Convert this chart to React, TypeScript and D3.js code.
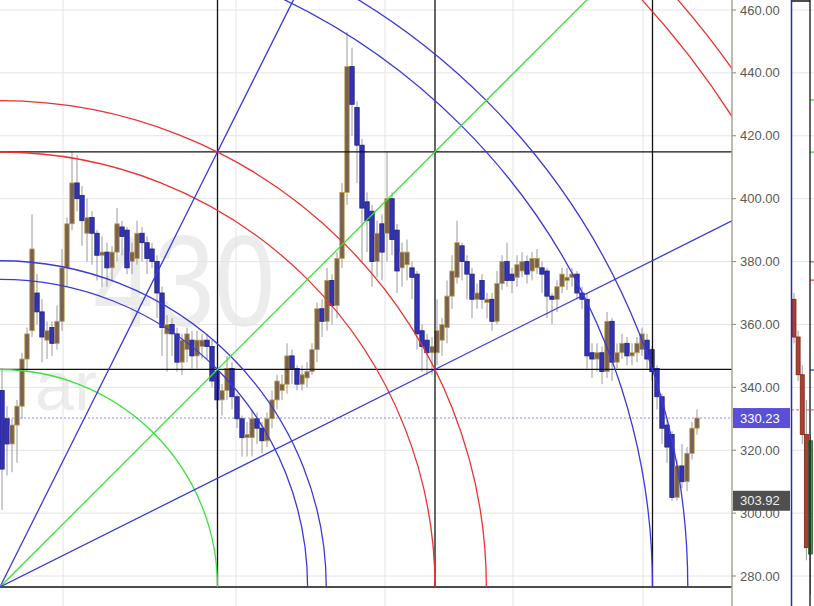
import React from 'react';
import * as d3 from 'd3';

// ---- candle data (bar index -> OHLC) ----
const open = [339,330,322,328,334,349,358,370,364,355,359,354,361,378,392,405,401,389,394,389,
382,383,378,383,391,390,380,381,389,386,384,380,370,357,360,357,348,352,355,350,
353,355,353,345,336,339,346,337,330,324,324,330,327,323,330,336,339,341,350,346,
341,343,345,352,365,361,374,366,381,402,442,429,417,399,396,380,392,389,400,390,
378,379,378,376,358,355,351,351,355,359,369,375,385,380,376,368,374,367,368,361,
373,380,376,375,377,380,377,378,378,377,369,368,372,374,375,376,370,368,351,349,
351,345,361,348,351,354,350,351,352,355,352,346,337,328,325,305,315,310,319,327];
const high = [346,334,330,336,351,359,395,376,368,361,361,366,384,394,415,414,404,400,396,390,
388,386,385,397,393,391,386,393,391,388,386,382,372,363,362,359,357,359,358,358,
357,357,355,346,341,350,348,338,331,329,333,332,329,332,339,344,344,354,352,347,
347,348,354,367,368,378,376,383,405,453,448,431,419,402,398,393,395,415,402,392,
386,387,380,377,360,357,356,368,362,374,382,393,386,382,378,373,376,370,370,377,
382,386,378,382,383,382,383,384,380,378,370,374,378,378,378,377,372,370,354,354,
353,364,362,354,357,356,354,356,359,357,353,347,338,330,326,317,322,321,329,333];
const low = [301,312,313,316,330,345,356,360,348,349,350,352,358,372,390,396,385,380,379,374,
372,372,374,380,382,376,376,379,380,376,378,362,350,345,350,345,344,348,346,346,
349,349,340,333,331,336,333,327,318,318,318,322,319,321,327,333,336,338,341,339,
339,340,344,348,356,358,360,362,378,398,420,405,380,383,372,375,374,380,382,370,
372,374,368,352,345,344,344,347,350,354,365,373,374,368,362,365,365,362,358,360,
371,372,370,372,375,373,374,376,370,362,360,364,370,371,372,368,365,346,343,345,
341,343,342,346,349,347,347,348,350,346,342,333,322,316,303.92,304,308,307,317,325];
const close = [314,322,328,334,349,357,384,364,356,358,354,361,378,392,405,400,393,394,389,382,
383,378,383,392,388,378,383,389,386,381,380,370,359,360,357,348,355,357,350,355,
355,353,342,336,339,346,337,330,324,325,330,327,323,330,336,342,341,350,346,341,
344,345,352,365,361,374,366,381,402,442,430,417,397,393,380,389,383,400,387,377,
383,383,375,357,353,351,353,358,360,369,377,386,380,376,368,370,368,368,361,373,
380,374,374,379,380,376,381,381,376,369,368,372,376,375,376,370,368,350,349,351,
345,361,348,351,354,350,351,354,357,349,345,337,327,321,305,315,310,319,327,330.23];

const priceTicks = [280, 300, 320, 340, 360, 380, 400, 420, 440, 460];
const gridBars = [12.2, 46.8, 76.6, 102.2, 128.2];
const lastPrice = 330.23;
const lowPrice = 303.92;

// Gann box definition (bar/price)
const gannOriginBar = -0.4;
const gannBarUnit = 43.5;
const gannOriginPrice = 276.5;
const gannPriceUnit = 69.2;
const gannBoxSteps = [0, 1, 2, 3];
const arcLevels: [number, number, string][] = [
  [1, 0, '#3de03d'], [1, 1, '#3a3ad8'], [1.5, 0, '#3a3ad8'], [2, 0, '#ee3030'], [2, 1, '#ee3030'],
  [3, 0, '#3a3ad8'], [3, 1, '#3a3ad8'], [4, 0, '#ee3030'], [4, 1, '#ee3030'],
];
const fanLevels: [number, number, string][] = [
  [1, 2, '#3a3ad8'], [1, 1, '#3de03d'], [2, 1, '#3a3ad8'],
];

// right side partial chart
const rOpen = [368, 356, 344, 325, 287];
const rHigh = [370, 358, 347, 336, 325];
const rLow = [354, 342, 322, 285, 274];
const rClose = [356, 344, 325, 289, 323];
const rMarkers: [number, string, boolean][] = [
  [431.4, '#3de03d', false], [414.8, '#3de03d', false], [379.9, '#ee5050', false],
  [374.1, '#ee5050', false], [345.5, '#3a3ad8', false], [332.8, '#ee8080', true],
];

export default function App() {
  const W = 814, H = 606;
  const plotRight = 732;
  const x = d3.scaleLinear().domain([0, close.length - 1]).range([2, 697]);
  const y = d3.scaleLinear().domain([280, 460]).range([576, 10]);
  const rx = d3.scaleLinear().domain([0, 4]).range([794, 810.5]);

  const ox = x(gannOriginBar);
  const oy = y(gannOriginPrice);
  const ux = x(gannOriginBar + gannBarUnit) - ox;
  const uy = oy - y(gannOriginPrice + gannPriceUnit);

  const bw = 4.4;

  return (
    <svg width={W} height={H} style={{ position: 'absolute', left: 0, top: 0, background: '#fff' }}
      fontFamily="'Liberation Sans', Arial, sans-serif">
      <defs>
        <clipPath id="plot"><rect x={0} y={0} width={plotRight} height={H} /></clipPath>
        <clipPath id="rp"><rect x={791} y={0} width={W - 791} height={H} /></clipPath>
      </defs>
      <rect x={0} y={0} width={W} height={H} fill="#fff" />
      <g clipPath="url(#plot)">
        {/* watermark */}
        <text x={93} y={326} fontSize={130} fill="#ececec" textLength={182} lengthAdjust="spacingAndGlyphs">430</text>
        <text x={35} y={410} fontSize={70} fill="#ececec">ar</text>
        {/* grid */}
        {priceTicks.map(t => (
          <line key={'h' + t} x1={0} x2={plotRight} y1={y(t)} y2={y(t)} stroke="#e4e4e4" strokeWidth={1} />
        ))}
        {gridBars.map(b => (
          <line key={'v' + b} x1={x(b)} x2={x(b)} y1={0} y2={H} stroke="#e4e4e4" strokeWidth={1} />
        ))}
        {/* last price line */}
        <line x1={0} x2={plotRight} y1={y(lastPrice)} y2={y(lastPrice)} stroke="#8a8ae6" strokeWidth={1} strokeDasharray="2,2" />
        {/* candles */}
        {close.map((c, i) => {
          const o = open[i];
          const up = c >= o;
          const top = y(Math.max(o, c));
          const bot = y(Math.min(o, c));
          const cx = x(i);
          return (
            <g key={i}>
              <line x1={cx} x2={cx} y1={y(high[i])} y2={y(low[i])} stroke="#9a9a9a" strokeWidth={1} />
              <rect x={cx - bw / 2} y={top} width={bw} height={Math.max(1, bot - top)}
                fill={up ? '#7a6054' : '#3333b8'} stroke={up ? '#b9a24a' : '#20207a'} strokeWidth={0.8} />
            </g>
          );
        })}
        {/* Gann box lines */}
        {gannBoxSteps.map(k => (
          <line key={'gh' + k} x1={ox} x2={plotRight} y1={oy - k * uy} y2={oy - k * uy} stroke="#111" strokeWidth={1.3} />
        ))}
        {gannBoxSteps.slice(1).map(k => (
          <line key={'gv' + k} x1={ox + k * ux} x2={ox + k * ux} y1={oy} y2={0} stroke="#111" strokeWidth={1.3} />
        ))}
        {/* arcs */}
        {arcLevels.map(([a, b, col], i) => {
          const r = Math.sqrt(a * a + b * b) * ux;
          const p = d3.path();
          p.moveTo(ox + r, oy);
          p.arc(ox, oy, r, 0, -Math.PI / 2, true);
          return <path key={'a' + i} d={p.toString()} fill="none" stroke={col} strokeWidth={1.3} />;
        })}
        {/* fans */}
        {fanLevels.map(([t, pr, col], i) => {
          const K = 10;
          return <line key={'f' + i} x1={ox} y1={oy} x2={ox + t * ux * K} y2={oy - pr * uy * K} stroke={col} strokeWidth={1.3} />;
        })}
      </g>
      {/* right axis */}
      <line x1={plotRight} x2={plotRight} y1={0} y2={H} stroke="#a9a393" strokeWidth={1.5} />
      {priceTicks.map(t => (
        <g key={'t' + t}>
          <line x1={plotRight} x2={plotRight + 4} y1={y(t)} y2={y(t)} stroke="#888" />
          <text x={740} y={y(t) + 4.5} fontSize={13} fill="#5a5a5a">{t.toFixed(2)}</text>
        </g>
      ))}
      <rect x={plotRight + 1} y={y(lastPrice) - 10} width={57} height={20} fill="#5a4fd6" />
      <text x={740} y={y(lastPrice) + 4.5} fontSize={13} fill="#fff">{lastPrice.toFixed(2)}</text>
      <rect x={plotRight + 1} y={y(lowPrice) - 10} width={57} height={20} fill="#4f4f4f" />
      <text x={740} y={y(lowPrice) + 4.5} fontSize={13} fill="#eee">{lowPrice.toFixed(2)}</text>

      {/* right partial chart */}
      <g clipPath="url(#rp)">
        {priceTicks.map(t => (
          <line key={'rh' + t} x1={791} x2={W} y1={y(t)} y2={y(t)} stroke="#e4e4e4" />
        ))}
        {rMarkers.map(([p, col, dash], i) => (
          <line key={'rm' + i} x1={dash ? 791 : 810} x2={W} y1={y(p)} y2={y(p)} stroke={col} strokeWidth={1.3}
            strokeDasharray={dash ? '3,2' : undefined} />
        ))}
        {rClose.map((c, i) => {
          const o = rOpen[i];
          const up = c >= o;
          const top = y(Math.max(o, c));
          const bot = y(Math.min(o, c));
          const cx = rx(i);
          return (
            <g key={'r' + i}>
              <line x1={cx} x2={cx} y1={y(rHigh[i])} y2={y(rLow[i])} stroke="#9a9a9a" />
              <rect x={cx - 2} y={top} width={4} height={Math.max(1, bot - top)}
                fill={up ? '#4f8a55' : '#b0402e'} stroke={up ? '#2f5a33' : '#7a2416'} strokeWidth={0.8} />
            </g>
          );
        })}
        <line x1={810} x2={810} y1={0} y2={H} stroke="#111" strokeWidth={1.3} />
        <line x1={791} x2={810} y1={1} y2={1} stroke="#111" strokeWidth={1.5} />
      </g>
      <line x1={791.5} x2={791.5} y1={0} y2={H} stroke="#2a2ab0" strokeWidth={1.5} />
    </svg>
  );
}
